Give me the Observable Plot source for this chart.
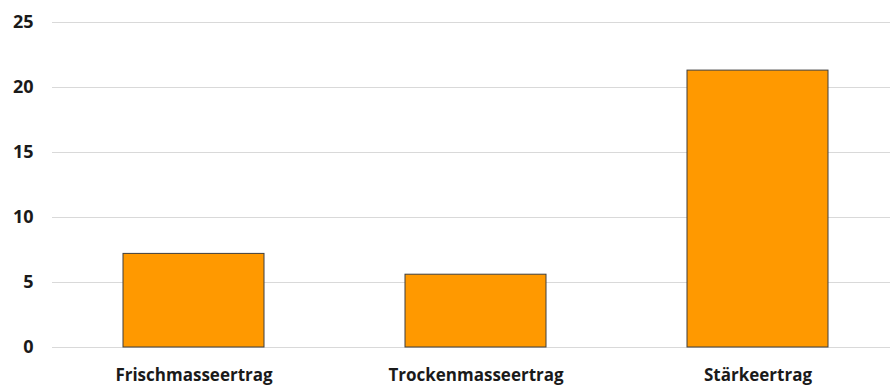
<!DOCTYPE html>
<html>
<head>
<meta charset="utf-8">
<script src="https://cdn.jsdelivr.net/npm/d3@7"></script>
<script src="https://cdn.jsdelivr.net/npm/@observablehq/plot@0.6"></script>
<style>
  html, body { margin: 0; padding: 0; background: #fff; }
  #chart svg { display: block; }
</style>
</head>
<body>
<div id="chart"></div>
<script>
const categories = ["Frischmasseertrag", "Trockenmasseertrag", "Stärkeertrag"];
const values = [7.2, 5.6, 21.3];
const yTicks = [0, 5, 10, 15, 20, 25];

const data = categories.map((c, i) => ({category: c, value: values[i]}));

const chart = Plot.plot({
  width: 890,
  height: 385,
  marginLeft: 52,
  marginRight: 0,
  marginTop: 22,
  marginBottom: 38,
  style: {fontFamily: "'Open Sans', 'Liberation Sans', sans-serif", fontWeight: "bold", fontSize: "15px", color: "#1a1a1a", background: "#fff", overflow: "visible"},
  x: {domain: categories, range: [52, 898], paddingInner: 0.5, paddingOuter: 0.25, label: null},
  y: {domain: [0, 25], label: null},
  marks: [
    Plot.ruleY(yTicks, {stroke: "#d9d9d9", strokeWidth: 1}),
    Plot.barY(data, {x: "category", y: "value", fill: "#ff9900", stroke: "#3f3f3f", strokeWidth: 1}),
    Plot.axisY({ticks: yTicks, tickSize: 0, tickPadding: 19, fontSize: 18, fontWeight: "bold", label: null}),
    Plot.axisX({tickSize: 0, tickPadding: 21, fontSize: 17, fontWeight: "bold", label: null})
  ]
});
document.getElementById("chart").appendChild(chart);
</script>
</body>
</html>
